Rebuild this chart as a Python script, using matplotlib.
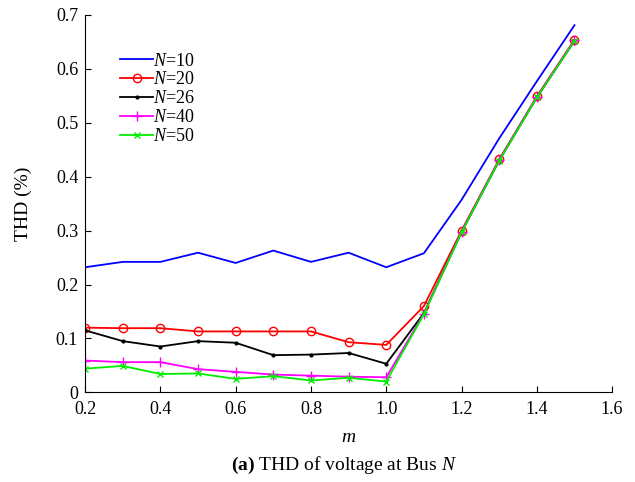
import numpy as np
import matplotlib
matplotlib.use("Agg")
import matplotlib.pyplot as plt

plt.rcParams["font.family"] = "Liberation Serif"
plt.rcParams["mathtext.fontset"] = "custom"
plt.rcParams["mathtext.rm"] = "Liberation Serif"
plt.rcParams["mathtext.it"] = "Liberation Serif:italic"
plt.rcParams["mathtext.bf"] = "Liberation Serif:bold"

m = [0.2, 0.3, 0.4, 0.5, 0.6, 0.7, 0.8, 0.9, 1.0, 1.1, 1.2, 1.3, 1.4, 1.5]

thd_n10 = [0.232, 0.242, 0.242, 0.259, 0.240, 0.263, 0.242, 0.259, 0.232,
           0.258, 0.357, 0.471, 0.577, 0.681]
thd_n20 = [0.120, 0.119, 0.119, 0.113, 0.113, 0.113, 0.113, 0.093, 0.088,
           0.160, 0.300, 0.432, 0.549, 0.654]
thd_n26 = [0.115, 0.095, 0.085, 0.095, 0.092, 0.069, 0.070, 0.073, 0.053,
           0.147, 0.297, 0.430, 0.547, 0.652]
thd_n40 = [0.059, 0.056, 0.056, 0.043, 0.038, 0.033, 0.031, 0.029, 0.028,
           0.146, 0.298, 0.431, 0.548, 0.653]
thd_n50 = [0.044, 0.049, 0.034, 0.035, 0.025, 0.030, 0.022, 0.027, 0.020,
           0.145, 0.297, 0.430, 0.547, 0.652]

fig = plt.figure(figsize=(6.35, 4.82), dpi=100)
ax = fig.add_axes([0.134, 0.186, 0.830, 0.783])

ax.plot(m, thd_n10, color="blue", lw=1.3, label="$N$=10")
ax.plot(m, thd_n20, color="red", lw=1.3, marker="o", ms=6, mfc="none",
        mew=1.0, label="$N$=20")
ax.plot(m, thd_n26, color="black", lw=1.3, marker=".", ms=4, label="$N$=26")
ax.plot(m, thd_n40, color="magenta", lw=1.3, marker="+", ms=7,
        label="$N$=40")
ax.plot(m, thd_n50, color="#00ee00", lw=1.3, marker="x", ms=4,
        label="$N$=50")

ax.set_xlim(0.2, 1.6)
ax.set_ylim(0, 0.7)
ax.set_xticks(np.arange(0.2, 1.61, 0.2))
ax.set_xticklabels(["0.2", "0.4", "0.6", "0.8", "1.0", "1.2", "1.4", "1.6"])
ax.set_yticks(np.arange(0, 0.71, 0.1))
ax.set_yticklabels(["0", "0.1", "0.2", "0.3", "0.4", "0.5", "0.6", "0.7"])
ax.tick_params(direction="in", labelsize=13, length=4)
ax.tick_params(axis="x", pad=6)
ax.tick_params(axis="y", pad=5)
ax.spines["top"].set_visible(False)
ax.spines["right"].set_visible(False)

ax.set_xlabel("$m$", fontsize=14, labelpad=8)
ax.set_ylabel("THD (%)", fontsize=14, labelpad=17)

ax.legend(loc="upper left", bbox_to_anchor=(0.066, 0.90), frameon=False,
          fontsize=13, handlelength=1.85, handletextpad=0.0,
          labelspacing=0.1, borderaxespad=0.0, borderpad=0.0)

fig.text(0.541, 0.025, r"$\mathbf{(a)}$ THD of voltage at Bus $N$",
         ha="center", fontsize=14)

fig.savefig("out.png", dpi=100)
